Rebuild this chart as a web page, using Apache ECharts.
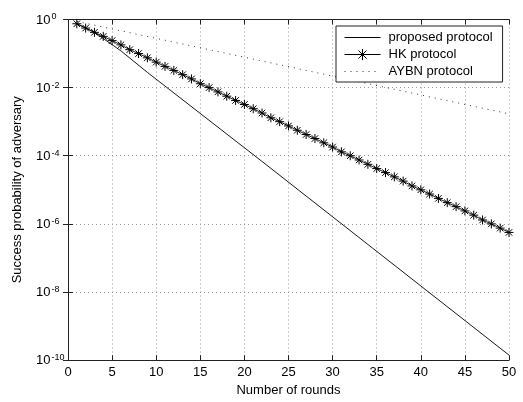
<!DOCTYPE html>
<html>
<head>
<meta charset="utf-8">
<script src="https://cdn.jsdelivr.net/npm/echarts@6/dist/echarts.min.js"></script>
<style>
html,body{margin:0;padding:0;background:#fff;}
#chart{width:523px;height:402px;}
</style>
</head>
<body>
<div id="chart"></div>
<script>
var seriesNames = ['proposed protocol', 'HK protocol', 'AYBN protocol'];
var xTicks = [0, 5, 10, 15, 20, 25, 30, 35, 40, 45, 50];
var yTickExponents = [0, -2, -4, -6, -8, -10];

// [round, probability] pairs
var proposed = [[1, 0.75], [2, 0.56], [3, 0.42], [6, 0.12], [9, 0.028], [22, 6.8e-5], [50, 1.4e-10]];
var hkRounds = [1,2,3,4,5,6,7,8,9,10,11,12,13,14,15,16,17,18,19,20,21,22,23,24,25,26,27,28,29,30,31,32,33,34,35,36,37,38,39,40,41,42,43,44,45,46,47,48,49,50];
var hkValues = [0.75,0.56,0.42,0.32,0.24,0.18,0.13,0.10,0.075,0.056,
  0.042,0.032,0.024,0.018,0.013,0.010,0.0075,0.0056,0.0042,0.0032,
  0.0024,0.0018,0.0013,0.0010,7.5e-4,5.6e-4,4.2e-4,3.2e-4,2.4e-4,1.8e-4,
  1.3e-4,1.0e-4,7.5e-5,5.6e-5,4.2e-5,3.2e-5,2.4e-5,1.8e-5,1.3e-5,1.0e-5,
  7.5e-6,5.6e-6,4.2e-6,3.2e-6,2.4e-6,1.8e-6,1.3e-6,1.0e-6,7.5e-7,5.6e-7];
var aybn = [[1, 0.88], [50, 0.0017]];

var FONT = 'Liberation Sans';
var chart = echarts.init(document.getElementById('chart'), null, {renderer: 'canvas'});
var hk = hkRounds.map(function (r, i) { return [r, hkValues[i]]; });
var star = 'path://M0,-1L0,1M-1,0L1,0M-0.72,-0.72L0.72,0.72M-0.72,0.72L0.72,-0.72';
var hiddenMark = {color: 'rgba(0,0,0,0)', borderColor: 'rgba(0,0,0,0)', borderWidth: 0, opacity: 0};

var axisLineStyle = {color: '#222', width: 1};
var gridLine = {show: true, lineStyle: {color: '#9a9a9a', width: 1, type: [1, 3]}};

chart.setOption({
  animation: false,
  backgroundColor: '#fff',
  textStyle: {fontFamily: FONT},
  grid: {left: 68, right: 14, top: 19.5, bottom: 35, containLabel: false},
  legend: {
    left: 336, top: 26, orient: 'vertical',
    data: [
      {name: seriesNames[0], itemStyle: hiddenMark},
      {name: seriesNames[1], itemStyle: {borderWidth: 1}},
      {name: seriesNames[2], itemStyle: hiddenMark}
    ],
    itemWidth: 36, itemHeight: 14, itemGap: 4,
    padding: [5, 10, 4, 8],
    borderColor: '#222', borderWidth: 1,
    backgroundColor: '#fff',
    lineStyle: {width: 1},
    textStyle: {fontFamily: FONT, fontSize: 13, color: '#000', padding: [0, 0, 0, 3]},
    inactiveColor: '#000'
  },
  xAxis: [{
    type: 'value', min: xTicks[0], max: xTicks[xTicks.length - 1], interval: 5,
    name: 'Number of rounds', nameLocation: 'middle', nameGap: 22,
    nameTextStyle: {fontFamily: FONT, fontSize: 13, color: '#000'},
    axisLine: {show: true, lineStyle: axisLineStyle},
    axisTick: {show: true, inside: true, length: 5, lineStyle: axisLineStyle},
    axisLabel: {fontFamily: FONT, fontSize: 13, color: '#000', margin: 6},
    splitLine: gridLine
  }, {
    type: 'value', position: 'top', min: xTicks[0], max: xTicks[xTicks.length - 1], interval: 5,
    axisLine: {show: true, lineStyle: axisLineStyle},
    axisTick: {show: true, inside: true, length: 5, lineStyle: axisLineStyle},
    axisLabel: {show: false}, splitLine: {show: false}
  }],
  yAxis: [{
    type: 'log', logBase: 100, min: Math.pow(10, yTickExponents[yTickExponents.length - 1]), max: Math.pow(10, yTickExponents[0]),
    name: 'Success probability of adversary', nameLocation: 'middle', nameGap: 44,
    nameTextStyle: {fontFamily: FONT, fontSize: 13, color: '#000'},
    axisLine: {show: true, lineStyle: axisLineStyle},
    axisTick: {show: true, inside: true, length: 5, lineStyle: axisLineStyle},
    minorTick: {show: false},
    axisLabel: {
      align: 'left', margin: 32,
      formatter: function (v) {
        var e = Math.round(Math.log10(v));
        return '{b|10}{s|' + (e === 0 ? '0' : String(e)) + '}';
      },
      rich: {
        b: {fontFamily: FONT, fontSize: 13, color: '#000', verticalAlign: 'bottom', lineHeight: 14},
        s: {fontFamily: FONT, fontSize: 9, color: '#000', verticalAlign: 'top', lineHeight: 14, padding: [0, 0, 0, 1]}
      }
    },
    splitLine: gridLine
  }, {
    type: 'log', logBase: 100, position: 'right', min: 1e-10, max: 1,
    axisLine: {show: true, lineStyle: axisLineStyle},
    axisTick: {show: true, inside: true, length: 5, lineStyle: axisLineStyle},
    axisLabel: {show: false}, splitLine: {show: false}
  }],
  series: [{
    name: seriesNames[0], type: 'line', data: proposed,
    symbol: 'none', lineStyle: {color: '#000', width: 0.9},
    itemStyle: {color: '#000'}, z: 3
  }, {
    name: seriesNames[1], type: 'line', data: hk,
    symbol: star, symbolSize: 9, showSymbol: true,
    lineStyle: {color: '#000', width: 0.9},
    itemStyle: {color: '#000', borderColor: '#000', borderWidth: 1}, z: 4
  }, {
    name: seriesNames[2], type: 'line', data: aybn,
    symbol: 'none', lineStyle: {color: '#333', width: 1, type: [1, 5]},
    itemStyle: {color: '#333'}, z: 2
  }]
});
</script>
</body>
</html>
